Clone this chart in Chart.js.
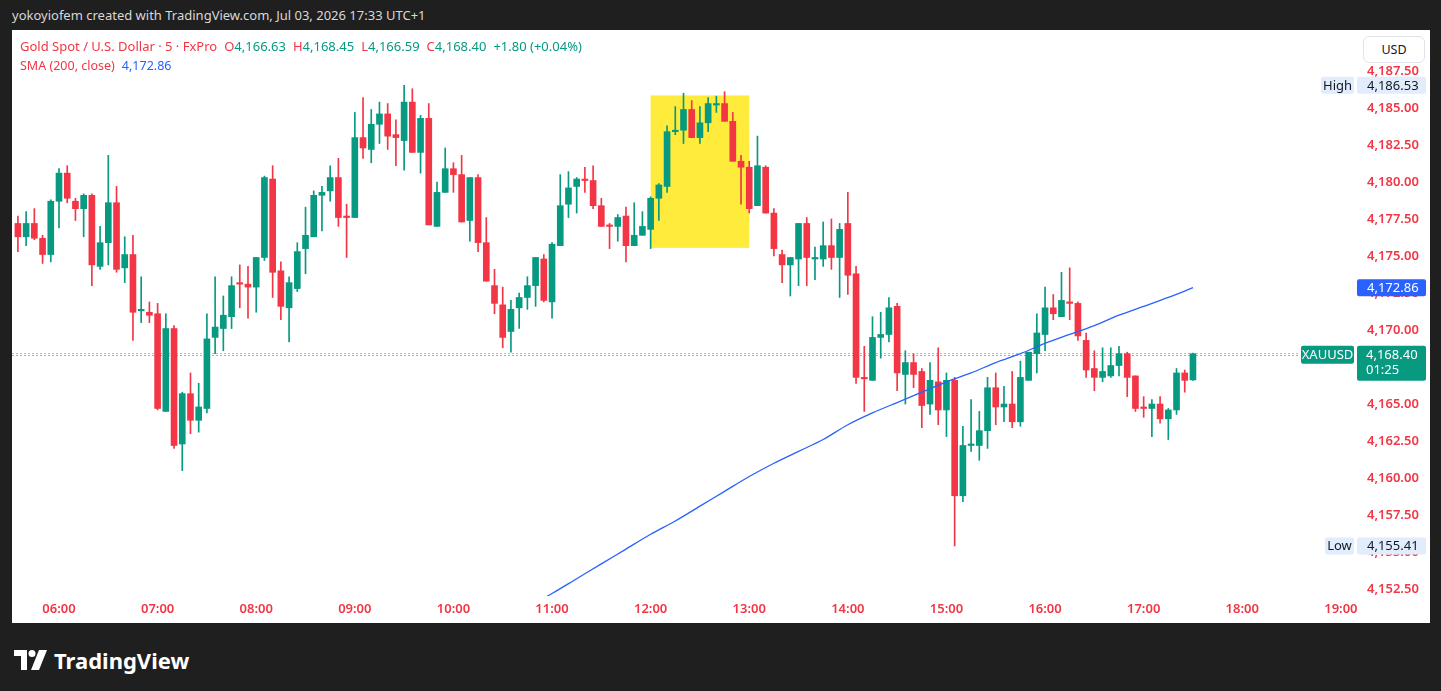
<!DOCTYPE html>
<html lang="en">
<head>
    <meta charset="UTF-8">
    <title>Gold Spot / U.S. Dollar - 5m</title>
    <script src="https://cdn.jsdelivr.net/npm/chart.js@4.4.1/dist/chart.umd.min.js"></script>
    <style>
        html, body { margin: 0; padding: 0; width: 1441px; height: 691px; overflow: hidden; background: #1f1f1f; font-family: 'Noto Sans', sans-serif; }
        .topline { position: absolute; left: 12px; top: 6px; color: #d8d8d8; font-size: 13px; }
        .panel { position: absolute; left: 12px; top: 30px; width: 1418px; height: 593px; background: #fff; }
        .legend { position: absolute; left: 8px; top: 7px; font-size: 12.5px; line-height: 19px; white-space: nowrap; z-index: 2; }
        .legend .l1 { font-size: 13px; }
        .legend .g { margin-left: 7px; }
        .red { color: #f23645; }
        .green { color: #089981; }
        .blue { color: #2962ff; }
        .usd { position: absolute; left: 1351px; top: 6px; width: 60px; height: 25px; border: 1px solid #e0e3eb; border-radius: 6px; background: #fff; text-align: center; line-height: 25px; font-size: 12.5px; color: #131722; z-index: 2; }
        .brand { position: absolute; left: 14px; top: 645px; color: #fff; font-size: 22px; font-weight: bold; display: flex; align-items: center; }
        .brand svg { margin-right: 7px; }
    </style>
</head>
<body>
    <div class="topline">yokoyiofem created with TradingView.com, Jul 03, 2026 17:33 UTC+1</div>

    <div class="panel">
        <div class="legend">
            <div class="l1"><span class="red">Gold Spot / U.S. Dollar · 5 · FxPro</span><span class="g red">O</span><span class="green">4,166.63</span><span class="g red">H</span><span class="green">4,168.45</span><span class="g red">L</span><span class="green">4,166.59</span><span class="g red">C</span><span class="green">4,168.40</span><span class="g green">+1.80 (+0.04%)</span></div>
            <div><span class="red">SMA (200, close)</span><span class="g blue">4,172.86</span></div>
        </div>
        <div class="usd">USD</div>
        <canvas id="chart"></canvas>
    </div>

    <div class="brand">
        <svg width="33" height="20" viewBox="0 0 33 20">
            <path d="M0 0h13v20H7V6H0z" fill="#fff"/>
            <circle cx="18" cy="3.5" r="3.5" fill="#fff"/>
            <path d="M25 0h8l-8 20h-8z" fill="#fff"/>
        </svg>
        TradingView
    </div>

    <script>
        // 5 minute bars, first one at 05:35
        const firstBar = '05:35';
        const barMinutes = 5;

        const opens = [
            4177.2, 4176.3, 4177.2, 4176.2, 4175.1, 4178.7, 4180.6, 4178.7, 4178.2, 4179.1,
            4174.3, 4175.9, 4178.6, 4174.2, 4175.1, 4171.3, 4171.2, 4171.1, 4164.5, 4170.1,
            4162.3, 4165.7, 4163.9, 4164.7, 4169.5, 4170.1, 4170.9, 4173.2, 4173.1, 4172.9,
            4174.9, 4180.2, 4174.0, 4171.5, 4172.8, 4175.5, 4176.3, 4179.1, 4179.4, 4180.3,
            4177.7, 4177.6, 4183.0, 4182.2, 4183.9, 4184.6, 4183.2, 4182.8, 4185.4, 4182.0,
            4184.3, 4177.0, 4179.3, 4180.9, 4180.5, 4177.4, 4180.3, 4175.9, 4173.0, 4171.7,
            4169.9, 4171.5, 4172.2, 4173.0, 4174.8, 4171.9, 4175.7, 4178.5, 4179.7, 4180.2,
            4180.1, 4178.4, 4177.1, 4177.0, 4177.7, 4175.7, 4176.4, 4176.8, 4178.9, 4179.7,
            4183.4, 4183.5, 4184.9, 4183.0, 4184.0, 4185.2, 4185.3, 4184.1, 4181.4, 4181.0,
            4178.4, 4181.0, 4177.9, 4175.1, 4174.4, 4174.8, 4177.2, 4174.8, 4174.8, 4175.7,
            4174.9, 4177.2, 4173.8, 4166.8, 4166.6, 4169.5, 4169.7, 4171.6, 4167.0, 4167.8,
            4167.2, 4165.0, 4166.5, 4164.6, 4166.6, 4158.8, 4162.2, 4162.2, 4163.2, 4166.1,
            4164.8, 4165.0, 4163.8, 4166.6, 4168.4, 4169.7, 4171.5, 4170.9, 4171.9, 4171.8,
            4169.3, 4167.4, 4166.8, 4166.9, 4167.6, 4168.4, 4166.9, 4164.8, 4164.7, 4165.0,
            4164.0, 4164.6, 4167.1, 4166.63
        ];
        const highs = [
            4177.7, 4178.0, 4178.2, 4176.4, 4178.8, 4180.9, 4181.1, 4178.9, 4179.2, 4179.2,
            4177.0, 4181.8, 4179.7, 4176.3, 4176.4, 4173.6, 4171.9, 4171.8, 4171.1, 4170.3,
            4165.8, 4167.1, 4166.4, 4171.1, 4173.6, 4172.3, 4173.6, 4174.4, 4174.3, 4174.9,
            4180.4, 4181.1, 4174.6, 4173.6, 4175.9, 4178.3, 4179.4, 4179.7, 4181.1, 4181.6,
            4178.5, 4184.7, 4185.7, 4184.9, 4185.4, 4185.3, 4184.2, 4186.53, 4186.3, 4184.5,
            4185.3, 4180.0, 4182.3, 4181.3, 4181.8, 4180.3, 4180.5, 4177.6, 4174.1, 4172.9,
            4172.0, 4172.5, 4173.6, 4174.9, 4175.1, 4175.9, 4180.5, 4180.7, 4180.3, 4181.0,
            4181.1, 4178.9, 4177.2, 4177.8, 4178.3, 4178.6, 4178.0, 4179.0, 4179.9, 4183.8,
            4185.1, 4186.0, 4185.5, 4185.1, 4185.7, 4185.8, 4186.1, 4184.7, 4181.8, 4181.4,
            4183.1, 4181.1, 4178.2, 4175.4, 4174.9, 4177.2, 4177.6, 4175.6, 4177.3, 4177.5,
            4177.2, 4179.3, 4174.3, 4168.9, 4170.9, 4171.2, 4172.2, 4171.8, 4168.6, 4168.4,
            4167.4, 4167.8, 4168.8, 4167.1, 4166.8, 4163.5, 4165.3, 4164.5, 4166.8, 4167.1,
            4166.2, 4167.2, 4167.9, 4168.5, 4171.1, 4172.9, 4172.4, 4173.9, 4174.2, 4171.9,
            4169.8, 4168.6, 4168.8, 4168.8, 4168.9, 4168.5, 4166.9, 4165.5, 4165.3, 4165.5,
            4164.7, 4167.4, 4167.3, 4168.45
        ];
        const lows = [
            4175.3, 4175.7, 4176.1, 4174.5, 4174.6, 4176.9, 4178.6, 4177.4, 4176.3, 4173.0,
            4174.1, 4174.4, 4173.9, 4173.2, 4169.3, 4170.5, 4170.5, 4164.6, 4164.5, 4162.0,
            4160.5, 4163.0, 4163.1, 4164.4, 4168.4, 4168.6, 4170.1, 4171.5, 4170.8, 4171.2,
            4174.7, 4172.2, 4170.7, 4169.2, 4172.6, 4173.8, 4176.3, 4176.7, 4178.7, 4177.0,
            4174.9, 4177.6, 4181.6, 4181.3, 4182.6, 4182.2, 4181.1, 4180.8, 4182.0, 4180.6,
            4177.1, 4177.0, 4179.3, 4179.3, 4177.3, 4176.0, 4175.3, 4173.3, 4171.1, 4168.8,
            4168.5, 4170.1, 4171.4, 4171.6, 4171.9, 4170.8, 4175.7, 4177.6, 4177.9, 4179.3,
            4178.2, 4177.0, 4175.5, 4176.0, 4174.6, 4175.7, 4176.4, 4175.5, 4177.4, 4179.3,
            4183.2, 4182.6, 4183.0, 4182.6, 4183.4, 4184.7, 4184.1, 4181.4, 4178.5, 4177.9,
            4178.4, 4177.9, 4175.0, 4173.2, 4172.3, 4173.0, 4173.0, 4173.4, 4174.3, 4174.1,
            4172.2, 4172.4, 4166.4, 4164.5, 4166.6, 4168.1, 4169.2, 4165.9, 4165.0, 4166.1,
            4163.4, 4164.3, 4163.6, 4162.8, 4155.41, 4158.4, 4161.8, 4161.2, 4162.0, 4163.6,
            4163.8, 4163.4, 4163.5, 4166.6, 4167.1, 4168.6, 4170.7, 4170.9, 4170.7, 4169.3,
            4166.8, 4165.9, 4166.5, 4166.8, 4166.9, 4165.5, 4164.5, 4164.1, 4162.8, 4163.7,
            4162.6, 4164.3, 4165.8, 4166.59
        ];
        const closes = [
            4176.3, 4177.2, 4176.2, 4175.1, 4178.7, 4180.6, 4178.9, 4178.2, 4179.1, 4174.4,
            4175.9, 4178.6, 4174.1, 4175.1, 4171.2, 4171.4, 4171.0, 4164.7, 4170.1, 4162.2,
            4165.7, 4163.9, 4164.8, 4169.4, 4170.2, 4171.0, 4173.0, 4173.1, 4172.9, 4174.9,
            4180.3, 4173.9, 4171.6, 4173.2, 4175.3, 4176.4, 4179.1, 4179.3, 4180.3, 4177.6,
            4177.6, 4183.0, 4182.3, 4183.9, 4184.6, 4183.1, 4183.0, 4185.4, 4182.0, 4184.3,
            4177.1, 4179.3, 4180.9, 4180.5, 4177.3, 4180.3, 4175.9, 4173.3, 4171.8, 4169.5,
            4171.4, 4172.2, 4173.0, 4174.9, 4172.0, 4175.8, 4178.4, 4179.6, 4180.2, 4180.1,
            4178.4, 4177.0, 4177.0, 4177.6, 4175.7, 4176.4, 4177.0, 4178.9, 4179.8, 4183.4,
            4183.5, 4184.9, 4183.0, 4184.0, 4185.3, 4185.3, 4184.1, 4181.4, 4181.0, 4178.2,
            4181.1, 4177.9, 4175.5, 4174.4, 4174.9, 4177.2, 4174.9, 4174.9, 4175.7, 4174.9,
            4176.8, 4173.7, 4166.8, 4166.7, 4169.5, 4169.7, 4171.5, 4167.1, 4167.8, 4167.0,
            4164.9, 4166.6, 4164.6, 4166.6, 4158.8, 4162.2, 4162.3, 4163.2, 4166.1, 4164.8,
            4165.0, 4163.8, 4166.8, 4168.5, 4169.8, 4171.5, 4171.1, 4172.0, 4171.8, 4169.6,
            4167.3, 4166.8, 4167.2, 4167.6, 4168.4, 4166.8, 4164.7, 4164.7, 4165.0, 4164.0,
            4164.6, 4167.1, 4166.6, 4168.40
        ];

        // SMA(200) read every 15 minutes
        const smaTimes = ['10:45', '11:00', '11:15', '11:30', '11:45', '12:00', '12:15', '12:30', '12:45', '13:00',
            '13:15', '13:30', '13:45', '14:00', '14:15', '14:30', '14:45', '15:00', '15:15', '15:30',
            '15:45', '16:00', '16:15', '16:30', '16:45', '17:00', '17:15', '17:30'];
        const smaValues = [4151.3, 4152.2, 4153.2, 4154.2, 4155.2, 4156.2, 4157.1, 4158.1, 4159.1, 4160.1,
            4161.0, 4161.8, 4162.6, 4163.6, 4164.4, 4165.1, 4165.8, 4166.5, 4167.1, 4167.8,
            4168.4, 4169.1, 4169.7, 4170.3, 4171.0, 4171.6, 4172.2, 4172.86];

        const timeTicks = ['06:00', '07:00', '08:00', '09:00', '10:00', '11:00', '12:00', '13:00',
            '14:00', '15:00', '16:00', '17:00', '18:00', '19:00'];
        const priceTicks = [4152.5, 4155, 4157.5, 4160, 4162.5, 4165, 4167.5, 4170, 4172.5,
            4175, 4177.5, 4180, 4182.5, 4185, 4187.5];

        const highlightTimes = ['12:00', '13:00'];
        const highlightPrices = [4175.55, 4185.85];

        const sessionHigh = 4186.53;
        const sessionLow = 4155.41;
        const lastPrice = 4168.40;
        const lastSma = 4172.86;
        const countdown = '01:25';

        const UP = '#089981';
        const DOWN = '#f23645';

        function toMin(s) {
            return parseInt(s.slice(0, 2)) * 60 + parseInt(s.slice(3));
        }
        function fmtTime(m) {
            const h = Math.floor(m / 60), mm = Math.round(m % 60);
            return String(h).padStart(2, '0') + ':' + String(mm).padStart(2, '0');
        }
        function fmtPrice(v) {
            return v.toLocaleString('en-US', { minimumFractionDigits: 2, maximumFractionDigits: 2 });
        }

        const start = toMin(firstBar);
        const barTimes = opens.map((_, i) => start + i * barMinutes);
        const colors = opens.map((o, i) => closes[i] >= o ? UP : DOWN);

        const wickData = barTimes.map((t, i) => ({ x: t, y: [lows[i], highs[i]] }));
        const bodyData = barTimes.map((t, i) => ({ x: t, y: [opens[i], closes[i]] }));
        const smaData = smaTimes.map((t, i) => ({ x: toMin(t), y: smaValues[i] }));

        // yellow box behind the candles + last price dotted line
        const highlightPlugin = {
            id: 'highlight',
            beforeDatasetsDraw(chart) {
                const { ctx, scales: { x, y }, chartArea } = chart;
                const x1 = x.getPixelForValue(toMin(highlightTimes[0]));
                const x2 = x.getPixelForValue(toMin(highlightTimes[1]));
                const y1 = y.getPixelForValue(highlightPrices[1]);
                const y2 = y.getPixelForValue(highlightPrices[0]);
                ctx.save();
                ctx.fillStyle = '#ffeb3b';
                ctx.fillRect(x1, y1, x2 - x1, y2 - y1);

                const py = Math.round(y.getPixelForValue(lastPrice)) + 0.5;
                ctx.lineWidth = 1;
                ctx.setLineDash([2, 2]);
                ctx.strokeStyle = 'rgba(242,54,69,0.45)';
                ctx.beginPath(); ctx.moveTo(chartArea.left, py - 1); ctx.lineTo(chartArea.right - 55, py - 1); ctx.stroke();
                ctx.strokeStyle = 'rgba(41,98,255,0.55)';
                ctx.beginPath(); ctx.moveTo(chartArea.left, py + 1); ctx.lineTo(chartArea.right - 55, py + 1); ctx.stroke();
                ctx.restore();
            }
        };

        function box(ctx, x, yc, w, h, bg, text, color, align) {
            ctx.fillStyle = bg;
            ctx.beginPath();
            ctx.roundRect(x, yc - h / 2, w, h, 2);
            ctx.fill();
            ctx.fillStyle = color;
            ctx.textBaseline = 'middle';
            ctx.textAlign = align || 'left';
            ctx.fillText(text, align === 'center' ? x + w / 2 : x + 10, yc + 0.5);
        }

        // price-scale labels (High, Low, SMA, last price)
        const labelsPlugin = {
            id: 'priceLabels',
            afterDraw(chart) {
                const { ctx, scales: { y }, chartArea } = chart;
                const r = chartArea.right;
                ctx.save();
                ctx.font = '13px "Noto Sans", sans-serif';

                let yc = y.getPixelForValue(sessionHigh);
                box(ctx, r - 34, yc, 33, 17, '#e1ecfc', 'High', '#131722', 'center');
                box(ctx, r + 2, yc, 69, 17, '#e1ecfc', fmtPrice(sessionHigh), '#131722');

                yc = y.getPixelForValue(sessionLow);
                box(ctx, r - 30, yc, 29, 17, '#e1ecfc', 'Low', '#131722', 'center');
                box(ctx, r + 2, yc, 69, 17, '#e1ecfc', fmtPrice(sessionLow), '#131722');

                yc = y.getPixelForValue(lastSma);
                box(ctx, r + 2, yc, 69, 17, '#2962ff', fmtPrice(lastSma), '#fff');

                yc = y.getPixelForValue(lastPrice) + 1;
                box(ctx, r - 54, yc, 53, 18, UP, 'XAUUSD', '#fff', 'center');
                ctx.fillStyle = UP;
                ctx.beginPath();
                ctx.roundRect(r + 2, yc - 9, 69, 35, 2);
                ctx.fill();
                ctx.fillStyle = '#fff';
                ctx.textAlign = 'left';
                ctx.fillText(fmtPrice(lastPrice), r + 11, yc + 0.5);
                ctx.fillText(countdown, r + 11, yc + 16);
                ctx.restore();
            }
        };

        Chart.defaults.font.family = '"Noto Sans", sans-serif';
        Chart.defaults.font.size = 13;

        new Chart(document.getElementById('chart'), {
            type: 'bar',
            data: {
                datasets: [
                    {
                        type: 'line',
                        label: 'SMA (200, close)',
                        data: smaData,
                        borderColor: '#2962ff',
                        borderWidth: 1.3,
                        pointRadius: 0,
                        tension: 0.3,
                        order: 0
                    },
                    {
                        label: 'bodies',
                        data: bodyData,
                        backgroundColor: colors,
                        barThickness: 6,
                        minBarLength: 1,
                        grouped: false,
                        borderWidth: 0,
                        order: 1
                    },
                    {
                        label: 'wicks',
                        data: wickData,
                        backgroundColor: colors,
                        barThickness: 1,
                        grouped: false,
                        borderWidth: 0,
                        order: 2
                    }
                ]
            },
            options: {
                responsive: true,
                maintainAspectRatio: false,
                animation: false,
                layout: { padding: 0 },
                plugins: { legend: { display: false }, tooltip: { enabled: false } },
                scales: {
                    x: {
                        type: 'linear',
                        offset: false,
                        min: 331.4,
                        max: 1148.6,
                        afterBuildTicks: s => { s.ticks = timeTicks.map(t => ({ value: toMin(t) })); },
                        afterFit: s => { s.height = 27; s.paddingLeft = 0; s.paddingRight = 0; },
                        ticks: {
                            color: DOWN,
                            padding: 5,
                            maxRotation: 0,
                            autoSkip: false,
                            callback: v => fmtTime(v),
                            font: { size: 13, weight: '600' }
                        },
                        grid: { display: false, drawTicks: false },
                        border: { display: false }
                    },
                    y: {
                        position: 'right',
                        min: 4152.03,
                        max: 4190.27,
                        afterBuildTicks: s => { s.ticks = priceTicks.map(v => ({ value: v })); },
                        afterFit: s => { s.width = 75; s.paddingTop = 0; s.paddingBottom = 0; },
                        ticks: {
                            color: DOWN,
                            padding: 12,
                            callback: v => fmtPrice(v),
                            font: { size: 13, weight: '600' }
                        },
                        grid: { display: false, drawTicks: false },
                        border: { display: false }
                    }
                }
            },
            plugins: [highlightPlugin, labelsPlugin]
        });
    </script>
</body>
</html>
